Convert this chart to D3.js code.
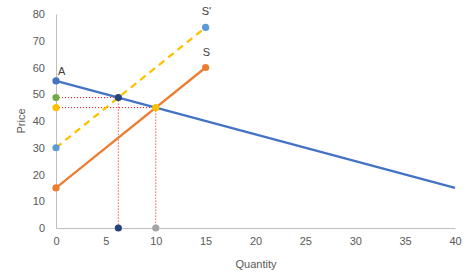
<!DOCTYPE html>
<html><head><meta charset="utf-8">
<script src="https://cdn.jsdelivr.net/npm/d3@7"></script>
<style>body{margin:0;background:#fff;} text{font-family:"Liberation Sans",Arial,sans-serif;}</style>
</head><body><svg id="c" width="472" height="276"></svg>
<script>
const xTicks = [0,5,10,15,20,25,30,35,40];
const yTicks = [0,10,20,30,40,50,60,70,80];
const demand = [[0,55],[40,15]];
const supply = [[0,15],[15,60]];
const supply2 = [[0,30],[15,75]];
const guides = [
  [[0,48.75],[6.25,48.75]], [[6.25,48.75],[6.25,0]],
  [[0,45],[10,45]], [[10,45],[10,0]]
];
const points = [
  {x:0,y:55,c:"#4472C4"},{x:0,y:30,c:"#5B9BD5"},{x:15,y:75,c:"#5B9BD5"},
  {x:0,y:15,c:"#ED7D31"},{x:15,y:60,c:"#ED7D31"},
  {x:0,y:48.75,c:"#70AD47"},{x:0,y:45,c:"#FFC000"},
  {x:6.25,y:48.75,c:"#264478"},{x:10,y:45,c:"#FFC000"},
  {x:6.25,y:0,c:"#264478"},{x:10,y:0,c:"#A5A5A5"}
];
const labels = [{x:0,y:55,t:"A",dx:2,dy:-6},{x:15,y:75,t:"S'",dx:-4,dy:-12},{x:15,y:60,t:"S",dx:-3,dy:-12}];

const svg = d3.select("#c");
const x = d3.scaleLinear().domain([0,40]).range([56,455]);
const y = d3.scaleLinear().domain([0,80]).range([228,14]);

const xa = svg.append("g").attr("transform","translate(0,228)")
  .call(d3.axisBottom(x).tickValues(xTicks).tickSize(0).tickPadding(9));
const ya = svg.append("g").attr("transform","translate(56,0)")
  .call(d3.axisLeft(y).tickValues(yTicks).tickSize(0).tickPadding(11));
[xa,ya].forEach(a=>{
  a.select(".domain").attr("stroke","#BFBFBF").attr("stroke-width",1);
  a.selectAll("text").attr("fill","#595959").style("font-size","11px").style("font-family","'Liberation Sans',Arial,sans-serif");
});

const line = d3.line().x(d=>x(d[0])).y(d=>y(d[1]));
guides.forEach(g=>svg.append("path").attr("d",line(g)).attr("fill","none")
  .attr("stroke","#FF0000").attr("stroke-width",1).attr("stroke-dasharray","1,2"));
svg.append("path").attr("d",line(demand)).attr("fill","none").attr("stroke","#4472C4").attr("stroke-width",2.25);
svg.append("path").attr("d",line(supply)).attr("fill","none").attr("stroke","#ED7D31").attr("stroke-width",2.25);
svg.append("path").attr("d",line(supply2)).attr("fill","none").attr("stroke","#FFC000").attr("stroke-width",2.25).attr("stroke-dasharray","7,5");

svg.selectAll("circle.p").data(points).enter().append("circle")
  .attr("cx",d=>x(d.x)).attr("cy",d=>y(d.y)).attr("r",3.6).attr("fill",d=>d.c);

svg.selectAll("text.l").data(labels).enter().append("text")
  .attr("x",d=>x(d.x)+d.dx).attr("y",d=>y(d.y)+d.dy).text(d=>d.t)
  .attr("fill","#404040").style("font-size","11px");

svg.append("text").attr("x",256).attr("y",268).attr("text-anchor","middle")
  .attr("fill","#595959").style("font-size","11px").text("Quantity");
svg.append("text").attr("transform","translate(25,121) rotate(-90)").attr("text-anchor","middle")
  .attr("fill","#595959").style("font-size","11px").text("Price");
</script></body></html>
